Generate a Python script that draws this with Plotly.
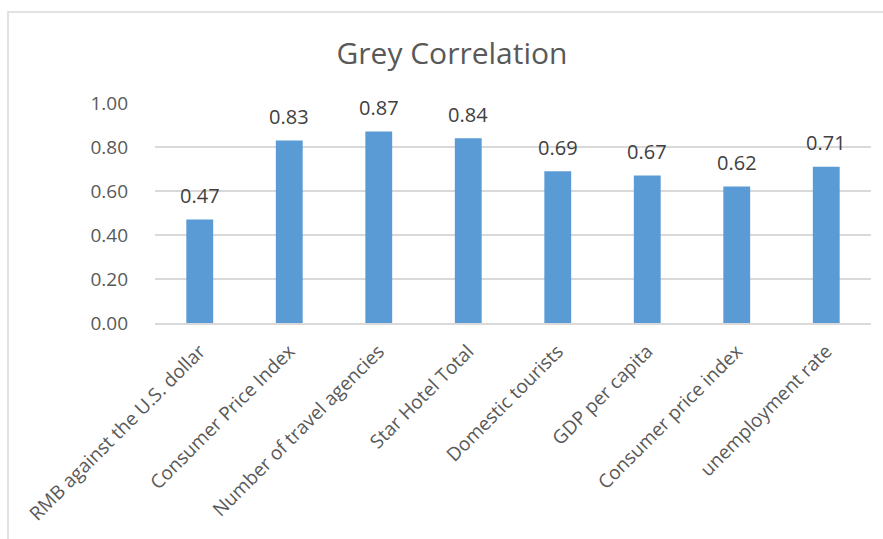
import plotly.graph_objects as go

categories = ["RMB against the U.S. dollar", "Consumer Price Index", "Number of travel agencies",
              "Star Hotel Total", "Domestic tourists", "GDP per capita",
              "Consumer price index", "unemployment rate"]
values = [0.47, 0.83, 0.87, 0.84, 0.69, 0.67, 0.62, 0.71]
y_ticks = [0.0, 0.2, 0.4, 0.6, 0.8, 1.0]

W, H = 883, 539
L, R, T, B = 155, 12, 103, 216
pw, ph = W - L - R, H - T - B

fig = go.Figure()
fig.add_trace(go.Bar(
    x=categories, y=values,
    marker=dict(color="#5B9BD5", line=dict(width=0)),
    hoverinfo="skip",
))

for c, v in zip(categories, values):
    fig.add_annotation(x=c, y=v, text=f"{v:.2f}", showarrow=False,
                       xanchor="center", yanchor="middle", yshift=24,
                       font=dict(family="Open Sans", size=20, color="#404040"))

fig.update_layout(
    width=W, height=H,
    margin=dict(l=L, r=R, t=T, b=B),
    paper_bgcolor="white", plot_bgcolor="white",
    bargap=0.7,
    showlegend=False,
    title=dict(text="Grey Correlation", x=452 / W, xanchor="center", xref="container",
               y=1 - 53 / H, yanchor="middle", yref="container",
               font=dict(family="Open Sans", size=30, color="#595959")),
    font=dict(family="Open Sans", color="#595959"),
    xaxis=dict(tickangle=-45, tickfont=dict(size=19, color="#595959"),
               showline=True, linecolor="#D9D9D9", linewidth=1.5, ticks="",
               showgrid=False, ticklabelstandoff=8),
    yaxis=dict(range=[0, 1.0], tickvals=y_ticks, tickformat=".2f",
               tickfont=dict(size=19, color="#595959"),
               showgrid=True, gridcolor="#D9D9D9", gridwidth=1.5,
               zeroline=False, showline=False, ticks="", ticklabelstandoff=26),
    shapes=[dict(type="rect", xref="paper", yref="paper",
                 x0=(8 - L) / pw, x1=1.2, y0=-1.5, y1=1 + (T - 12) / ph,
                 line=dict(color="#D9D9D9", width=1.5), fillcolor="rgba(0,0,0,0)",
                 layer="below")],
)
fig.update_xaxes(automargin=False)
fig.update_yaxes(automargin=False)

fig.write_html("out.html", config={"displayModeBar": False},
               post_script="document.body.style.margin='0px';")
